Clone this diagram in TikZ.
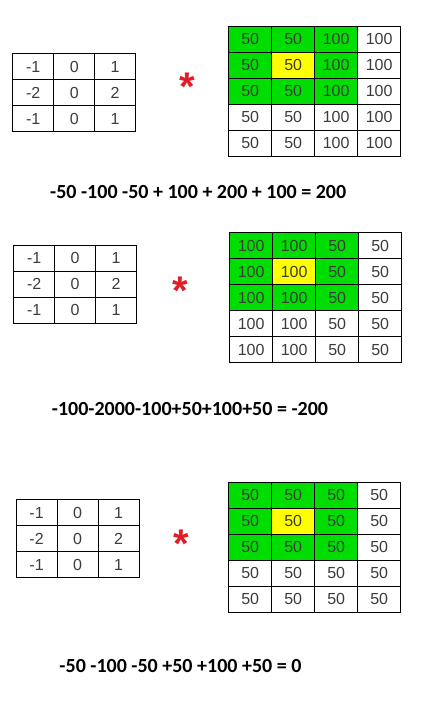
\documentclass[tikz,border=0pt]{standalone}
\usepackage{fontspec}
\setmainfont{Liberation Sans}
\newfontfamily\sumfont{Carlito}
\usetikzlibrary{matrix}

\definecolor{boxgreen}{RGB}{0,221,0}
\definecolor{boxyellow}{RGB}{255,255,0}
\definecolor{celltext}{RGB}{60,60,60}
\definecolor{starred}{RGB}{225,30,40}

\tikzset{
  patch/.style={matrix of nodes, anchor=north west, inner sep=0pt, outer sep=0pt,
    column sep=-0.8pt, row sep=-0.8pt},
  cell/.style={draw, line width=0.8pt, inner sep=0pt, minimum height=26pt,
    text=celltext, font=\fontsize{16}{16}\selectfont},
  kcell/.style={cell, minimum width=41pt},
  icell/.style={cell, minimum width=43pt},
  hot/.style={fill=boxgreen},
  mid/.style={fill=boxyellow},
  mult/.style={text=starred, font=\fontsize{40}{40}\selectfont\bfseries, inner sep=0pt, anchor=base},
  total/.style={font=\sumfont\bfseries\fontsize{20}{20}\selectfont, inner sep=0pt, anchor=base west}
}

\begin{document}
\begin{tikzpicture}[x=1pt, y=-1pt]

  % Fix the page to the size of the picture
  \path[use as bounding box, fill=white] (0,0) rectangle (440,716);

  % First case: kernel, star and image patch
  \matrix (KerA) [patch, nodes={kcell}] at (12.3,53.3) {
    -1 & 0 & 1 \\
    -2 & 0 & 2 \\
    -1 & 0 & 1 \\
  };
  \node[mult] (StarA) at (187.3,100.6) {*};
  \matrix (ImgA) [patch, nodes={icell}] at (228.3,26) {
    |[hot]| 50 & |[hot]| 50 & |[hot]| 100 & 100 \\
    |[hot]| 50 & |[mid]| 50 & |[hot]| 100 & 100 \\
    |[hot]| 50 & |[hot]| 50 & |[hot]| 100 & 100 \\
    50 & 50 & 100 & 100 \\
    50 & 50 & 100 & 100 \\
  };
  % The sum written under it
  \node[total] (SumA) at (50,198.3) {-50 -100 -50 + 100 + 200 + 100 = 200};

  % Second case
  \matrix (KerB) [patch, nodes={kcell}] at (13.3,245) {
    -1 & 0 & 1 \\
    -2 & 0 & 2 \\
    -1 & 0 & 1 \\
  };
  \node[mult] (StarB) at (180,304) {*};
  \matrix (ImgB) [patch, nodes={icell}] at (229.3,232.3) {
    |[hot]| 100 & |[hot]| 100 & |[hot]| 50 & 50 \\
    |[hot]| 100 & |[mid]| 100 & |[hot]| 50 & 50 \\
    |[hot]| 100 & |[hot]| 100 & |[hot]| 50 & 50 \\
    100 & 100 & 50 & 50 \\
    100 & 100 & 50 & 50 \\
  };
  \node[total] (SumB) at (51.7,415) {-100-2000-100+50+100+50 = -200};

  % Third case
  \matrix (KerC) [patch, nodes={kcell}] at (15.7,499.3) {
    -1 & 0 & 1 \\
    -2 & 0 & 2 \\
    -1 & 0 & 1 \\
  };
  \node[mult] (StarC) at (181.7,557) {*};
  \matrix (ImgC) [patch, nodes={icell}] at (228.3,481.7) {
    |[hot]| 50 & |[hot]| 50 & |[hot]| 50 & 50 \\
    |[hot]| 50 & |[mid]| 50 & |[hot]| 50 & 50 \\
    |[hot]| 50 & |[hot]| 50 & |[hot]| 50 & 50 \\
    50 & 50 & 50 & 50 \\
    50 & 50 & 50 & 50 \\
  };
  \node[total] (SumC) at (59.3,672) {-50 -100 -50 +50 +100 +50 = 0};

\end{tikzpicture}
\end{document}
